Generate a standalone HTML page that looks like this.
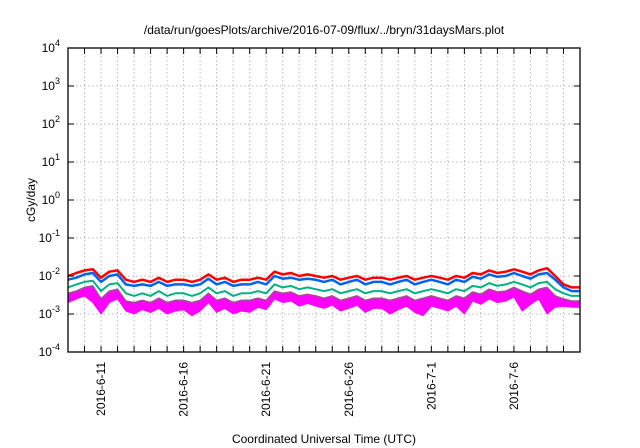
<!DOCTYPE html>
<html><head><meta charset="utf-8"><style>
body{margin:0;background:#fff;}
svg{display:block;font-family:"Liberation Sans",sans-serif;}
</style></head><body>
<svg id="c" width="640" height="448" viewBox="0 0 640 448">
<text x="324" y="34" font-size="12" text-anchor="middle">/data/run/goesPlots/archive/2016-07-09/flux/../bryn/31daysMars.plot</text>
<text transform="translate(35,200) rotate(-90)" font-size="12" text-anchor="middle">cGy/day</text>
<text x="324" y="443" font-size="12" text-anchor="middle">Coordinated Universal Time (UTC)</text>
<g id="grid"></g>
<g id="series"></g>
<g id="axes"></g>
</svg>
<script>
const yExps=[-4,-3,-2,-1,0,1,2,3,4];
const xLabels=["2016-6-11","2016-6-16","2016-6-21","2016-6-26","2016-7-1","2016-7-6"];
const xLabelDays=[2,7,12,17,22,27];
const nDays=31;
const red=[10,12,14,15,9,13,14,8,7,8,7,9,7,8,8,7,8,11,8,9,7,8,8,9,8,13,11,12,10,11,10,9,10,8,9,10,8,9,9,8,9,10,8,9,10,9,8,10,9,12,11,14,12,13,15,13,11,14,16,10,6,5,5];
const blue=[8,9,11,12,7,10,11,6,5.5,6,5.5,7,5.5,6,6,5.5,6,8.5,6,7,5.5,6,6,7,6,10,8.5,9,8,8.5,8,7,8,6,7,8,6,7,7,6,7,8,6,7,8,7,6,8,7,9.5,8.5,11,9.5,10,12,10,8.5,11,12,8,5,4,4];
const green=[5,6,7,7.5,4,6,6.5,3.5,3,3.5,3,4,3,3.5,3.5,3,3.5,5,3.5,4,3,3.5,3.5,4,3.5,6,5,5.5,4.5,5,4.5,4,4.5,3.5,4,4.5,3.5,4,4,3.5,4,4.5,3.5,4,4.5,4,3.5,4.5,4,5.5,5,6.5,5.5,6,7,6,5,6.5,7,4.5,3.5,3,3];
const purple=[3.5,4,5,5.5,2.5,4,4.5,2.2,2,2.3,2,2.6,2,2.3,2.3,2,2.3,3.5,2.3,2.6,2,2.3,2.3,2.6,2.3,4,3.5,3.8,3,3.3,3,2.6,3,2.3,2.6,3,2.3,2.6,2.6,2.3,2.6,3,2.3,2.6,3,2.6,2.3,3,2.6,3.8,3.3,4.5,3.8,4,5,4,3.3,4.5,5,3,2.5,2.2,2.2];
const magentaLow=[2,2.5,3,2,1,2,2.5,1.2,1,1.3,1.1,1.4,1,1.2,1.3,0.9,1.2,2,1.1,1.4,1,1.2,1.1,1.5,1.3,2.5,2,2.2,1.6,1.9,1.6,1.4,1.7,1.2,1.4,1.7,1.1,1.4,1.4,1,1.3,1.6,1.1,0.9,1.6,1.4,1.2,1.6,1,2.2,1.8,2.5,2,2.2,2.8,1.2,1.8,2.5,1,1.5,1.6,1.5,1.5];
const L=68,R=580,T=48,B=352;
const NS="http://www.w3.org/2000/svg";
function xs(d){return L+(R-L)*d/nDays;}
function ys(v){const e=Math.log10(v*1e-3);return B-(e+4)/8*(B-T);}
function mk(tag,attrs,parent){const el=document.createElementNS(NS,tag);for(const k in attrs)el.setAttribute(k,attrs[k]);parent.appendChild(el);return el;}
const grid=document.getElementById('grid'),axes=document.getElementById('axes'),ser=document.getElementById('series');
yExps.forEach(e=>{const y=B-(e+4)/8*(B-T);
 if(e>-4&&e<4){const g=mk('line',{x1:L,x2:R,y1:y,y2:y,stroke:'#bbb','stroke-dasharray':'1.5,2.5','stroke-width':1},grid);
 }
 const t=mk('text',{x:L-8,y:y+4,'font-size':12,'text-anchor':'end'},axes);
 
 t.textContent='10';const s=mk('tspan',{dy:-6,'font-size':9},t);s.textContent=String(e);
 const tk=mk('line',{x1:L,x2:L+6,y1:y,y2:y,stroke:'#000'},axes);
 const tk2=mk('line',{x1:R,x2:R-6,y1:y,y2:y,stroke:'#000'},axes);
});
for(let d=1;d<nDays;d++){const x=xs(d);
 const g=mk('line',{x1:x,x2:x,y1:T,y2:B,stroke:'#bbb','stroke-dasharray':'1.5,2.5'},grid);
 
 const t1=mk('line',{x1:x,x2:x,y1:B,y2:B-6,stroke:'#000'},axes);
 const t2=mk('line',{x1:x,x2:x,y1:T,y2:T+6,stroke:'#000'},axes);
}
xLabels.forEach((lab,i)=>{const x=xs(xLabelDays[i]);
 const t=mk('text',{transform:`translate(${x+4},${B+10}) rotate(-90)`,'font-size':12,'text-anchor':'end'},axes);
 t.textContent=lab;});
const fr=mk('rect',{x:L,y:T,width:R-L,height:B-T,fill:'none',stroke:'#000','stroke-width':1.3},axes);

function pts(arr){return arr.map((v,i)=>xs(i/2).toFixed(1)+','+ys(v).toFixed(1));}
const band=mk('polygon',{points:pts(purple).concat(pts(magentaLow).reverse()).join(' '),fill:'#ff00ff',stroke:'#ff00ff','stroke-width':1},ser);

function line(arr,color,w,name){const p=mk('polyline',{points:pts(arr).join(' '),fill:'none',stroke:color,'stroke-width':w,'stroke-linejoin':'round'},ser);
 }
line(purple,'#a0508c',1.5,'purple-series');
line(green,'#00b482',2,'green-series');
line(red,'#ff0000',2.5,'red-series');
line(blue,'#0064f0',2.5,'blue-series');
</script>
</body></html>
